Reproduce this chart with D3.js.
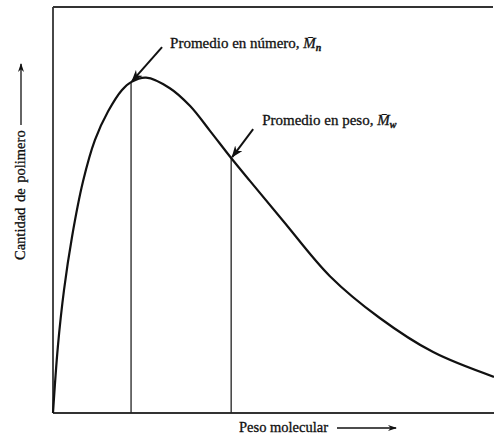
<!DOCTYPE html>
<html>
<head>
<meta charset="utf-8">
<script src="https://cdn.jsdelivr.net/npm/d3@7"></script>
<style>
  body { margin: 0; background: #fff; }
  text { font-family: "Liberation Serif", "DejaVu Serif", serif; fill: #111; stroke: #111; stroke-width: 0.3px; }
</style>
</head>
<body>
<div id="chart"></div>
<script>
// distribution curve (arbitrary units)
var pesoMolecular = [0, 0.11, 0.25, 0.43, 0.68, 0.95, 1.25, 1.56, 1.77, 2.11, 2.65, 3.11, 3.56, 4.04, 4.47, 5.22, 6.28, 7.41, 8.62, 10];
var cantidad      = [0, 1.63, 3.03, 4.33, 5.7, 6.72, 7.43, 7.95, 8.15, 8.26, 8.0, 7.56, 6.95, 6.28, 5.71, 4.73, 3.37, 2.34, 1.5, 0.89];

// averages
var promedioX = [1.77, 4.04];
var promedioTexto = ["Promedio en número, ", "Promedio en peso, "];
var promedioSub = ["n", "w"];

var width = 494, height = 436;
var margin = { top: 7, right: 0, bottom: 23, left: 53 };

var x = d3.scaleLinear().domain([0, 10]).range([margin.left, width - margin.right]);
var y = d3.scaleLinear().domain([0, 10]).range([height - margin.bottom, margin.top]);

var svg = d3.select("#chart")
  .append("svg")
    .attr("width", width)
    .attr("height", height);

var defs = svg.append("defs");
var addHead = function(id, w, h) {
  defs.append("marker")
      .attr("id", id)
      .attr("viewBox", "0 0 " + w + " " + h)
      .attr("refX", w - 1).attr("refY", h / 2)
      .attr("markerWidth", w).attr("markerHeight", h)
      .attr("markerUnits", "userSpaceOnUse")
      .attr("orient", "auto")
    .append("path")
      .attr("d", "M0,0 L" + w + "," + (h / 2) + " L0," + h + " L" + (w * 0.3) + "," + (h / 2) + " Z")
      .attr("fill", "#111");
};
addHead("head", 12, 9);
addHead("headSmall", 9, 6);

// frame: left, top, bottom (no right side)
var frame = svg.append("g").attr("stroke", "#333").attr("stroke-width", 1.8).attr("fill", "none");
frame.append("line").attr("x1", x(0)).attr("x2", x(0)).attr("y1", y(10)).attr("y2", y(0));
frame.append("line").attr("x1", x(0)).attr("x2", x(10) - 1).attr("y1", y(10)).attr("y2", y(10));
frame.append("line").attr("x1", x(0)).attr("x2", x(10)).attr("y1", y(0)).attr("y2", y(0));

var data = pesoMolecular.map(function(d, i) { return { x: d, y: cantidad[i] }; });

var line = d3.line()
  .x(function(d) { return x(d.x); })
  .y(function(d) { return y(d.y); })
  .curve(d3.curveCatmullRom.alpha(0.5));

// value of the curve at a given x
var interp = function(v) {
  var i = d3.bisector(function(d) { return d.x; }).left(data, v);
  var a = data[Math.max(i - 1, 0)], b = data[i];
  if (b.x === a.x) return a.y;
  return a.y + (b.y - a.y) * (v - a.x) / (b.x - a.x);
};

// vertical lines at the averages
svg.selectAll(".prom")
  .data(promedioX)
  .enter()
  .append("line")
    .attr("class", "prom")
    .attr("x1", function(d) { return x(d); })
    .attr("x2", function(d) { return x(d); })
    .attr("y1", function(d) { return y(interp(d)); })
    .attr("y2", y(0))
    .attr("stroke", "#222")
    .attr("stroke-width", 1.3);

svg.append("path")
  .datum(data)
  .attr("d", line)
  .attr("fill", "none")
  .attr("stroke", "#111")
  .attr("stroke-width", 2.2);

// pointer arrows and labels
var arrowOff = [[31, -35], [22, -29]];
var labelOff = [[39, -34], [31, -33]];
promedioX.forEach(function(d, i) {
  var px = x(d), py = y(interp(d));
  svg.append("line")
    .attr("x1", px + arrowOff[i][0]).attr("y1", py + arrowOff[i][1])
    .attr("x2", px + 1).attr("y2", py - 1)
    .attr("stroke", "#111")
    .attr("stroke-width", 2)
    .attr("marker-end", "url(#head)");

  var t = svg.append("text")
    .attr("x", px + labelOff[i][0])
    .attr("y", py + labelOff[i][1])
    .style("font-size", "15px");
  t.append("tspan").text(promedioTexto[i]);
  t.append("tspan").style("font-style", "italic").text("M\u0304");
  t.append("tspan").attr("dy", 3).style("font-size", "10px").style("font-style", "italic").style("font-weight", "bold").text(promedioSub[i]);
});

// axis titles with arrows
svg.append("text")
  .attr("x", 239)
  .attr("y", 432)
  .style("font-size", "14.5px")
  .text("Peso molecular");
svg.append("line")
  .attr("x1", 337).attr("x2", 396)
  .attr("y1", 428).attr("y2", 428)
  .attr("stroke", "#111").attr("stroke-width", 1.3)
  .attr("marker-end", "url(#headSmall)");

svg.append("text")
  .attr("transform", "translate(25,260) rotate(-90)")
  .style("font-size", "14.5px")
  .style("word-spacing", "2px")
  .text("Cantidad de polimero");
svg.append("line")
  .attr("x1", 21).attr("x2", 21)
  .attr("y1", 125).attr("y2", 64)
  .attr("stroke", "#111").attr("stroke-width", 1.3)
  .attr("marker-end", "url(#headSmall)");
</script>
</body>
</html>
